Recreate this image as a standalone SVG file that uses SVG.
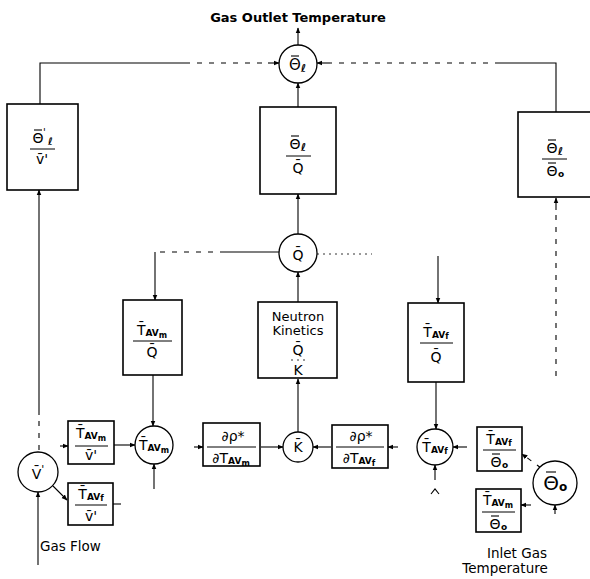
<svg xmlns="http://www.w3.org/2000/svg" width="590" height="579" viewBox="0 0 590 579">
<style>
text{font-family:"DejaVu Sans","Liberation Sans",sans-serif;fill:#000}
.lbl{font-size:13.5px}
.m{font-size:14px;text-anchor:middle}
.sub{font-weight:bold}
.box{fill:#fff;stroke:#000;stroke-width:1.6}
.cir{fill:#fff;stroke:#000;stroke-width:1.3}
.ln{fill:none;stroke:#000;stroke-width:1.1}
.dv{fill:none;stroke:#000;stroke-width:1}
.bar{fill:none;stroke:#000;stroke-width:1.1}
.bk{stroke-dasharray:5 7}
.dt{stroke-dasharray:2 4;stroke-width:0.8}
</style>
<defs>
<marker id="ah" viewBox="0 0 10 10" refX="9" refY="5" markerWidth="6" markerHeight="6" markerUnits="userSpaceOnUse" orient="auto"><path d="M0,1 L10,5 L0,9 z" fill="#000"/></marker>
</defs>

<text x="298" y="22" font-size="13" font-weight="bold" text-anchor="middle">Gas Outlet Temperature</text>
<text class="lbl" x="40" y="551">Gas Flow</text>
<text class="lbl" x="517" y="558" text-anchor="middle">Inlet Gas</text>
<text class="lbl" x="505" y="573" text-anchor="middle">Temperature</text>

<g id="connectors">
<path class="ln" d="M298,45 V28" marker-end="url(#ah)"/>
<path class="ln" d="M40,104 V63 H185"/>
<path class="ln bk" d="M185,63 H268"/>
<path class="ln" d="M268,63 H279" marker-end="url(#ah)"/>
<path class="ln" d="M556,112 V63 H500"/>
<path class="ln bk" d="M500,63 H330"/>
<path class="ln" d="M330,63 H317" marker-end="url(#ah)"/>
<path class="ln" d="M298,107 V83" marker-end="url(#ah)"/>
<path class="ln" d="M298,234 V194" marker-end="url(#ah)"/>
<path class="ln" d="M298,302 V272" marker-end="url(#ah)"/>
<path class="ln" d="M298,432 V379" marker-end="url(#ah)"/>
<path class="ln" d="M279,252 H225"/>
<path class="ln bk" d="M225,252 H155"/>
<path class="ln" d="M155,252 V300" marker-end="url(#ah)"/>
<path class="ln dt" d="M317,254 H372"/>
<path class="ln" d="M438,256 V303" marker-end="url(#ah)"/>
<path class="ln" d="M153,375 V426" marker-end="url(#ah)"/>
<path class="ln" d="M436,382 V429" marker-end="url(#ah)"/>
<path class="ln bk" d="M556,376 V210"/>
<path class="ln" d="M556,210 V198" marker-end="url(#ah)"/>
<path class="ln bk" d="M39,450 V415"/>
<path class="ln" d="M39,415 V190" marker-end="url(#ah)"/>
<path class="ln" d="M38,565 V492" marker-end="url(#ah)"/>
<path class="ln" d="M53,486 L67,500" marker-end="url(#ah)"/>
<path class="ln" d="M60,446 H68" marker-end="url(#ah)"/>
<path class="ln" d="M114,445 H135" marker-end="url(#ah)"/>
<path class="ln" d="M194,447 H203" marker-end="url(#ah)"/>
<path class="ln" d="M261,447 H283" marker-end="url(#ah)"/>
<path class="ln" d="M331,447 H313" marker-end="url(#ah)"/>
<path class="ln" d="M398,447 H388" marker-end="url(#ah)"/>
<path class="ln" d="M467,447 H453" marker-end="url(#ah)"/>
<path class="ln" d="M435,480 V465" marker-end="url(#ah)"/>
<path class="ln" d="M154,489 V464" marker-end="url(#ah)"/>
<path class="ln bk" d="M541,468 L522,454" marker-end="url(#ah)"/>
<path class="ln" d="M531,505 H521" marker-end="url(#ah)"/>
<path class="ln" d="M555,514 V505" marker-end="url(#ah)"/>
<path class="ln" d="M113,504 H121"/>
<path class="ln" d="M431,494 L435,489 L439,494"/>
</g>

<g id="sum-outlet">
<circle class="cir" cx="298" cy="64" r="19"/>
<text x="295" y="70" font-size="15" text-anchor="middle">Θ</text>
<text class="sub" x="301" y="72" font-size="11" font-style="italic">ℓ</text>
<path class="bar" d="M291,56 H299"/>
</g>

<g id="blk-theta-v">
<rect class="box" x="7" y="104" width="71" height="86"/>
<text class="m" x="38" y="143">Θ</text>
<text x="43" y="136" font-size="10">'</text>
<text class="sub" x="48" y="145" font-size="10" font-style="italic">ℓ</text>
<path class="bar" d="M34,130 H42"/>
<path class="dv" d="M30,149 H55"/>
<text class="m" x="42" y="164" font-size="13">v̄'</text>
</g>

<g id="blk-theta-q">
<rect class="box" x="260" y="107" width="76" height="87"/>
<text class="m" x="295" y="149">Θ</text>
<text class="sub" x="301" y="151" font-size="11" font-style="italic">ℓ</text>
<path class="bar" d="M291,136 H299"/>
<path class="dv" d="M286,156 H311"/>
<text class="m" x="298" y="173">Q̄</text>
</g>

<g id="blk-theta-theta0">
<rect class="box" x="518" y="112" width="76" height="85"/>
<text class="m" x="552" y="153">Θ</text>
<text class="sub" x="558" y="155" font-size="11" font-style="italic">ℓ</text>
<path class="bar" d="M548,140 H556"/>
<path class="dv" d="M542,159 H567"/>
<text class="m" x="552" y="176">Θ</text>
<text class="sub" x="558" y="177" font-size="9">o</text>
<path class="bar" d="M548,163 H556"/>
</g>

<g id="sum-q">
<circle class="cir" cx="298" cy="253" r="19"/>
<text class="m" x="298" y="260" font-size="17">Q̄</text>
</g>

<g id="blk-tavm-q">
<rect class="box" x="123" y="300" width="59" height="75"/>
<text class="m" x="152" y="335">T̄<tspan class="sub" font-size="9" dy="1">AV</tspan><tspan class="sub" font-size="8" dy="2">m</tspan></text>
<path class="dv" d="M133,341 H172"/>
<text class="m" x="152" y="357">Q̄</text>
</g>

<g id="blk-neutron">
<rect class="box" x="258" y="302" width="79" height="76"/>
<text x="298" y="321" font-size="13" text-anchor="middle">Neutron</text>
<text x="298" y="335" font-size="13" text-anchor="middle">Kinetics</text>
<text class="m" x="298" y="355" font-size="12">Q̄</text>
<path class="dv dt" d="M291,360 H305"/>
<text class="m" x="298" y="375" font-size="12">K</text>
</g>

<g id="blk-tavf-q">
<rect class="box" x="408" y="303" width="56" height="79"/>
<text class="m" x="436" y="337">T̄<tspan class="sub" font-size="9" dy="1">AV</tspan><tspan class="sub" font-size="8" dy="1">f</tspan></text>
<path class="dv" d="M420,343 H453"/>
<text class="m" x="436" y="362">Q̄</text>
</g>

<g id="sum-v">
<circle class="cir" cx="38" cy="472" r="20"/>
<text class="m" x="38" y="479" font-size="16">V̄<tspan font-size="11" dy="-6">'</tspan></text>
</g>

<g id="blk-tavm-v">
<rect class="box" x="68" y="421" width="46" height="43"/>
<text class="m" x="91" y="438">T̄<tspan class="sub" font-size="9" dy="1">AV</tspan><tspan class="sub" font-size="8" dy="2">m</tspan></text>
<path class="dv" d="M75,446 H108"/>
<text class="m" x="91" y="460" font-size="12">v̄'</text>
</g>

<g id="blk-tavf-v">
<rect class="box" x="68" y="483" width="45" height="42"/>
<text class="m" x="91" y="499">T̄<tspan class="sub" font-size="9" dy="1">AV</tspan><tspan class="sub" font-size="8" dy="1">f</tspan></text>
<path class="dv" d="M75,505 H107"/>
<text class="m" x="91" y="521" font-size="12">v̄'</text>
</g>

<g id="sum-tavm">
<circle class="cir" cx="154" cy="445" r="19"/>
<text class="m" x="154" y="450">T̄<tspan class="sub" font-size="9" dy="1">AV</tspan><tspan class="sub" font-size="8" dy="2">m</tspan></text>
</g>

<g id="blk-drho-tavm">
<rect class="box" x="203" y="423" width="57" height="43"/>
<text class="m" x="233" y="441" font-size="13">∂ρ*</text>
<path class="dv" d="M207,447 H256"/>
<text class="m" x="231" y="463" font-size="13">∂T<tspan class="sub" font-size="9" dy="1">AV</tspan><tspan class="sub" font-size="8" dy="2">m</tspan></text>
</g>

<g id="sum-k">
<circle class="cir" cx="298" cy="447" r="15"/>
<text class="m" x="298" y="452">K̄</text>
</g>

<g id="blk-drho-tavf">
<rect class="box" x="332" y="425" width="56" height="43"/>
<text class="m" x="361" y="441" font-size="13">∂ρ*</text>
<path class="dv" d="M336,447 H384"/>
<text class="m" x="359" y="463" font-size="13">∂T<tspan class="sub" font-size="9" dy="1">AV</tspan><tspan class="sub" font-size="8" dy="2">f</tspan></text>
</g>

<g id="sum-tavf">
<circle class="cir" cx="435" cy="447" r="18"/>
<text class="m" x="435" y="452">T̄<tspan class="sub" font-size="9" dy="1">AV</tspan><tspan class="sub" font-size="8" dy="1">f</tspan></text>
</g>

<g id="blk-tavf-theta0">
<rect class="box" x="477" y="427" width="45" height="44"/>
<text class="m" x="499" y="444">T̄<tspan class="sub" font-size="9" dy="1">AV</tspan><tspan class="sub" font-size="8" dy="1">f</tspan></text>
<path class="dv" d="M483,450 H516"/>
<text class="m" x="496" y="467">Θ</text>
<text class="sub" x="502" y="468" font-size="9">o</text>
<path class="bar" d="M492,454 H500"/>
</g>

<g id="blk-tavm-theta0">
<rect class="box" x="476" y="489" width="45" height="43"/>
<text class="m" x="498" y="505">T̄<tspan class="sub" font-size="9" dy="1">AV</tspan><tspan class="sub" font-size="8" dy="2">m</tspan></text>
<path class="dv" d="M482,512 H515"/>
<text class="m" x="495" y="529">Θ</text>
<text class="sub" x="501" y="530" font-size="9">o</text>
<path class="bar" d="M491,516 H499"/>
</g>

<g id="sum-theta0">
<circle class="cir" cx="555" cy="483" r="22"/>
<text x="551" y="490" font-size="20" text-anchor="middle">Θ</text>
<text class="sub" x="559" y="491" font-size="12">o</text>
<path class="bar" d="M546,472 H556"/>
</g>
</svg>
